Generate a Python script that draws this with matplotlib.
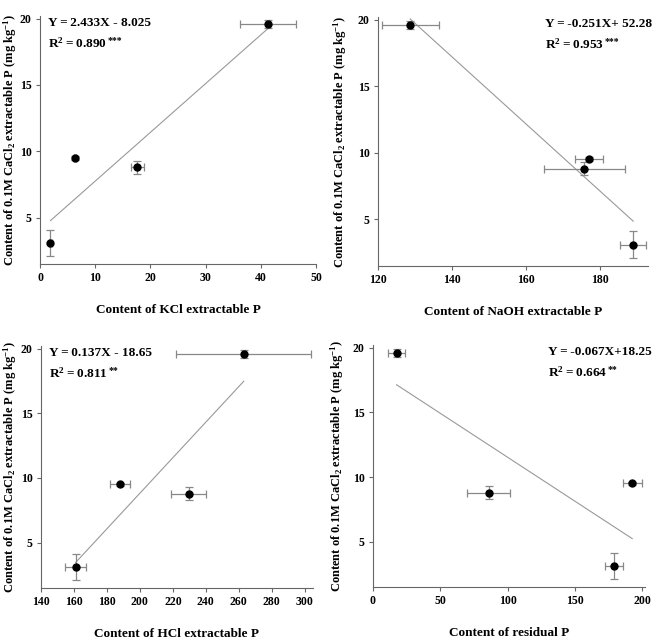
import numpy as np
import matplotlib.pyplot as plt

plt.rcParams['font.family'] = ['Liberation Serif', 'DejaVu Serif']
plt.rcParams['font.weight'] = 'bold'
plt.rcParams['mathtext.fontset'] = 'custom'
plt.rcParams['mathtext.rm'] = 'Liberation Serif:bold'
plt.rcParams['mathtext.it'] = 'Liberation Serif:bold'
plt.rcParams['mathtext.bf'] = 'Liberation Serif:bold'

# CaCl2 extractable P (same four soils in every panel)
cacl2 = [3.1, 9.5, 8.8, 19.6]
cacl2_err = [1.0, 0.15, 0.5, 0.3]

kcl = [1.9, 6.4, 17.6, 41.3]
kcl_err = [0.3, 0.2, 1.2, 5.1]
naoh = [189.0, 177.0, 175.8, 128.7]
naoh_err = [3.5, 3.7, 11.0, 7.7]
hcl = [161.0, 188.0, 229.5, 263.0]
hcl_err = [6.5, 6.0, 10.5, 41.0]
resid = [179.0, 192.5, 86.0, 17.5]
resid_err = [7.0, 7.0, 16.0, 6.0]

sp = '\u2009'
eqs = ['Y' + sp + '=' + sp + '2.433X - 8.025',
       'Y' + sp + '=' + sp + '-0.251X+ 52.28',
       'Y' + sp + '=' + sp + '0.137X - 18.65',
       'Y' + sp + '=' + sp + '-0.067X+18.25']
r2 = ['0.890', '0.953', '0.811', '0.664']
stars = ['***', '***', '**', '**']
xlabels = ['Content of KCl extractable P', 'Content of NaOH extractable P',
           'Content of HCl extractable P', 'Content of residual P']
xlims = [(0, 50), (120, 193), (140, 305), (0, 202)]
xticks = [np.arange(0, 51, 10), np.arange(120, 181, 20),
          np.arange(140, 301, 20), np.arange(0, 201, 50)]
xs = [kcl, naoh, hcl, resid]
xerrs = [kcl_err, naoh_err, hcl_err, resid_err]
eq_left = [True, False, True, False]

W, H = 658, 641
# axes boxes in pixels: left, top, right, bottom
boxes = [(40, 16, 316, 264), (378, 17, 648, 266),
         (41, 346, 313, 588), (373, 345, 645, 587)]
ylab_right_px = [19, 349, 19, 346]

fig = plt.figure(figsize=(W / 100, H / 100), dpi=100)
ylab = r'Content of 0.1M CaCl$_2$ extractable P (mg kg$^{-1}$)'

for i in range(4):
    l, t, r, b = boxes[i]
    ax = fig.add_axes([l / W, 1 - b / H, (r - l) / W, (b - t) / H])
    x = np.array(xs[i])
    y = np.array(cacl2)
    k, c = np.polyfit(x, y, 1)
    xl = np.array([x.min(), x.max()])
    ax.plot(xl, k * xl + c, color='#999999', lw=0.8)
    ax.errorbar(x, y, xerr=xerrs[i], yerr=cacl2_err, fmt='o', color='black',
                ms=5, ecolor='#888888', elinewidth=0.9, capsize=3, capthick=0.9)
    ax.set_xlim(*xlims[i])
    ax.set_ylim(1.5, 20.2)
    ax.set_xticks(xticks[i])
    ax.set_yticks([5, 10, 15, 20])
    for s in ['top', 'right']:
        ax.spines[s].set_visible(False)
    for s in ['left', 'bottom']:
        ax.spines[s].set_color('#666666')
        ax.spines[s].set_linewidth(0.8)
    ax.tick_params(length=3, width=0.8, color='#666666', labelsize=8.5, pad=3)
    for lab in ax.get_xticklabels() + ax.get_yticklabels():
        lab.set_fontweight('bold')
    ax.set_xlabel(xlabels[i], fontsize=9.5, fontweight='bold', labelpad=14)
    ax.set_ylabel(ylab, fontsize=9, fontweight='bold')
    ax.yaxis.set_label_coords((ylab_right_px[i] - l) / (r - l), 0.5)

    if eq_left[i]:
        t1 = ax.text(0.03, 0.995, eqs[i], transform=ax.transAxes, ha='left',
                     va='top', fontsize=9.5, fontweight='bold')
    else:
        t1 = ax.text((652 - l) / (r - l), 0.995, eqs[i], transform=ax.transAxes,
                     ha='right', va='top', fontsize=9.5, fontweight='bold')
    t2 = ax.annotate(r'R$^2$' + sp + '=' + sp + r2[i], xy=(0, 0), xycoords=t1,
                     xytext=(0, -5), textcoords='offset points',
                     ha='left', va='top', fontsize=9.5, fontweight='bold')
    ax.annotate(stars[i], xy=(1.0, 1.0), xycoords=t2, xytext=(0.5, 0),
                textcoords='offset points', ha='left', va='top',
                fontsize=7, fontweight='bold')

fig.savefig('out.png', dpi=100)
